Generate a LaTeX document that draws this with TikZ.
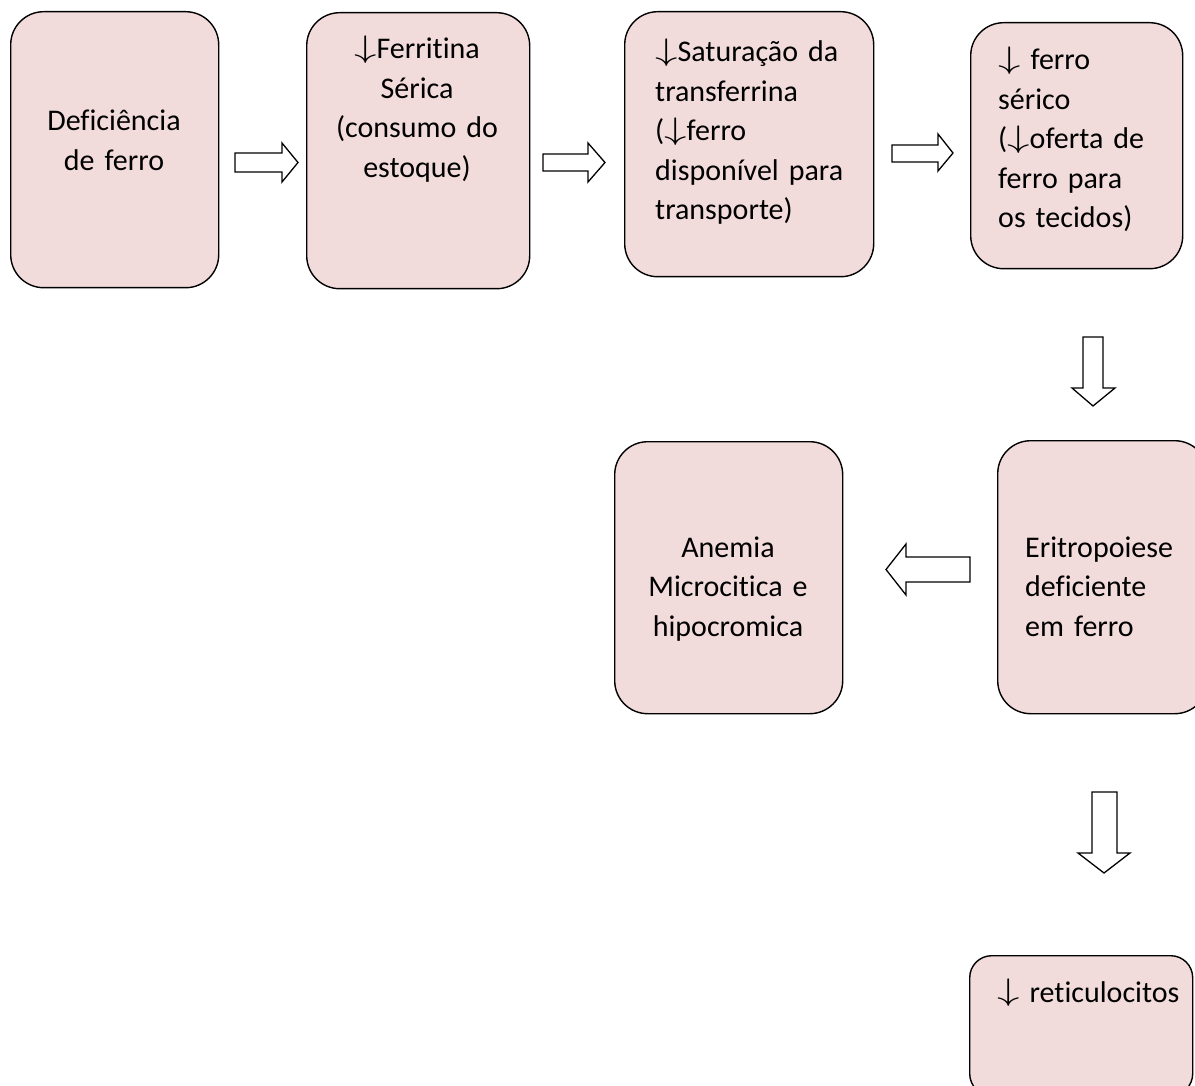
\documentclass[tikz,border=0pt]{standalone}
\usepackage{graphicx}
\usepackage{fontspec}
\setmainfont{Carlito}[Ligatures=NoCommon]
\usepackage{tikz}
\usetikzlibrary{positioning}
\definecolor{rosy}{HTML}{F2DCDB}
\newcommand{\DOWN}{\raisebox{1.2pt}{\scalebox{1.8}[1.25]{$\downarrow$}}}
\tikzset{
  etapa/.style={draw=black, line width=1.4pt, fill=rosy, rounded corners=33pt,
    anchor=north west, inner sep=0pt},
  texto/.style={inner sep=0pt, font=\fontsize{30}{39.5}\selectfont},
  seta/.style={draw=black, line width=1.3pt, fill=white, line join=miter},
}

\begin{document}
\begin{tikzpicture}[x=1pt, y=-1pt]
\clip (0,0) rectangle (1195,1086);
\fill[white] (0,0) rectangle (1195,1086);

% caixas
\node[etapa, minimum width=208pt, minimum height=276pt] (def) at (10,11) {};
\node[etapa, minimum width=223pt, minimum height=276pt] (fer) at (306,12) {};
\node[etapa, minimum width=249pt, minimum height=265pt] (sat) at (624,11) {};
\node[etapa, minimum width=212pt, minimum height=246pt] (ser) at (970,22) {};
\node[etapa, minimum width=210pt, minimum height=273pt] (erit) at (997,440) {};
\node[etapa, minimum width=228pt, minimum height=272pt] (anem) at (614,441) {};
\node[etapa, minimum width=223pt, minimum height=140pt, rounded corners=22pt]
  (ret) at (969,955) {};

% textos
\node[texto, text width=208pt, align=center, anchor=base] (tdef) at (114,131)
  {Deficiência\\de ferro};
\node[texto, text width=223pt, align=center, anchor=base] (tfer) at (417,59)
  {\DOWN Ferritina\\Sérica\\(consumo do\\estoque)};
\node[texto, text width=230pt, align=left, anchor=base west] (tsat) at (655,62)
  {\DOWN Saturação da\\transferrina\\(\DOWN ferro\\disponível para\\transporte)};
\node[texto, text width=190pt, align=left, anchor=base west] (tser) at (998,70)
  {\DOWN{} ferro\\sérico\\(\DOWN oferta de\\ferro para\\os tecidos)};
\node[texto, text width=180pt, align=left, anchor=base west] (terit) at (1025,557)
  {Eritropoiese\\deficiente\\em ferro};
\node[texto, text width=228pt, align=center, anchor=base] (tanem) at (728,557)
  {Anemia\\Microcitica e\\hipocromica};
\node[texto, text width=200pt, align=left, anchor=base west] (tret) at (997,1002)
  {\DOWN{} reticulocitos};

% setas
\draw[seta] (235,153) -- (282,153) -- (282,143) -- (298,162.5) -- (282,182)
  -- (282,172) -- (235,172) -- cycle;
\draw[seta] (543,154) -- (588,154) -- (588,143) -- (605,162.5) -- (588,182)
  -- (588,171) -- (543,171) -- cycle;
\draw[seta] (892,145) -- (938,145) -- (938,134) -- (953,153) -- (938,171)
  -- (938,162) -- (892,162) -- cycle;
\draw[seta] (1083,337) -- (1103,337) -- (1103,388) -- (1115,388) -- (1093,406)
  -- (1072,388) -- (1083,388) -- cycle;
\draw[seta] (970,557) -- (906,557) -- (906,544) -- (886,569.5) -- (906,595)
  -- (906,582) -- (970,582) -- cycle;
\draw[seta] (1092,792) -- (1117,792) -- (1117,853) -- (1130,853) -- (1104,873)
  -- (1078,853) -- (1092,853) -- cycle;
\end{tikzpicture}
\end{document}
